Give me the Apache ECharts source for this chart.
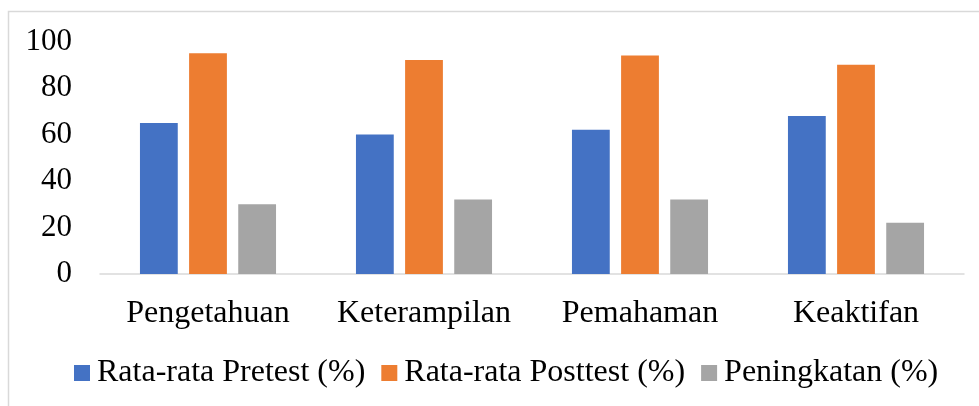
<!DOCTYPE html>
<html><head><meta charset="utf-8">
<script src="https://cdn.jsdelivr.net/npm/echarts@6/dist/echarts.min.js"></script>
<style>
html,body{margin:0;padding:0;background:#fff;overflow:hidden;}
#chart{width:979px;height:406px;}
</style></head>
<body><div id="chart"></div>
<script>
const categories = ['Pengetahuan', 'Keterampilan', 'Pemahaman', 'Keaktifan'];
const pretest = [65, 60, 62, 68];
const posttest = [95, 92, 94, 90];
const peningkatan = [30, 32, 32, 22];
const seriesNames = ['Rata-rata Pretest (%)', 'Rata-rata Posttest (%)', 'Peningkatan (%)'];
const colors = ['#4472C4', '#ED7D31', '#A5A5A5'];

const font = 'Liberation Serif';
const chart = echarts.init(document.getElementById('chart'), null, {renderer: 'canvas'});
chart.setOption({
  animation: false,
  textStyle: {fontFamily: font, color: '#000'},
  graphic: [{
    type: 'rect', shape: {x: 8.5, y: 11.5, width: 1100, height: 500},
    style: {fill: 'none', stroke: '#d9d9d9', lineWidth: 1.5}, silent: true, z: -1
  }],
  grid: {left: 100, right: 15, top: 41.5, bottom: 132, containLabel: false},
  legend: {
    left: 69, top: 352, itemWidth: 16, itemHeight: 16, itemGap: 16,
    icon: 'rect',
    textStyle: {fontFamily: font, fontSize: 32, color: '#000', padding: [0, 0, 0, 2]},
    data: seriesNames
  },
  xAxis: {
    type: 'category', data: categories,
    axisLine: {lineStyle: {color: '#d9d9d9', width: 1.5}},
    axisTick: {show: false},
    axisLabel: {fontFamily: font, fontSize: 32, color: '#000', margin: 24, interval: 0}
  },
  yAxis: {
    type: 'value', min: 0, max: 100, interval: 20,
    axisLine: {show: false}, axisTick: {show: false},
    splitLine: {show: false},
    axisLabel: {fontFamily: font, fontSize: 31, color: '#000', margin: 28}
  },
  series: [
    {name: seriesNames[0], type: 'bar', data: pretest, itemStyle: {color: colors[0]}, barWidth: '17.5%', barGap: '30%'},
    {name: seriesNames[1], type: 'bar', data: posttest, itemStyle: {color: colors[1]}, barWidth: '17.5%', barGap: '30%'},
    {name: seriesNames[2], type: 'bar', data: peningkatan, itemStyle: {color: colors[2]}, barWidth: '17.5%', barGap: '30%'}
  ]
});
</script></body></html>
